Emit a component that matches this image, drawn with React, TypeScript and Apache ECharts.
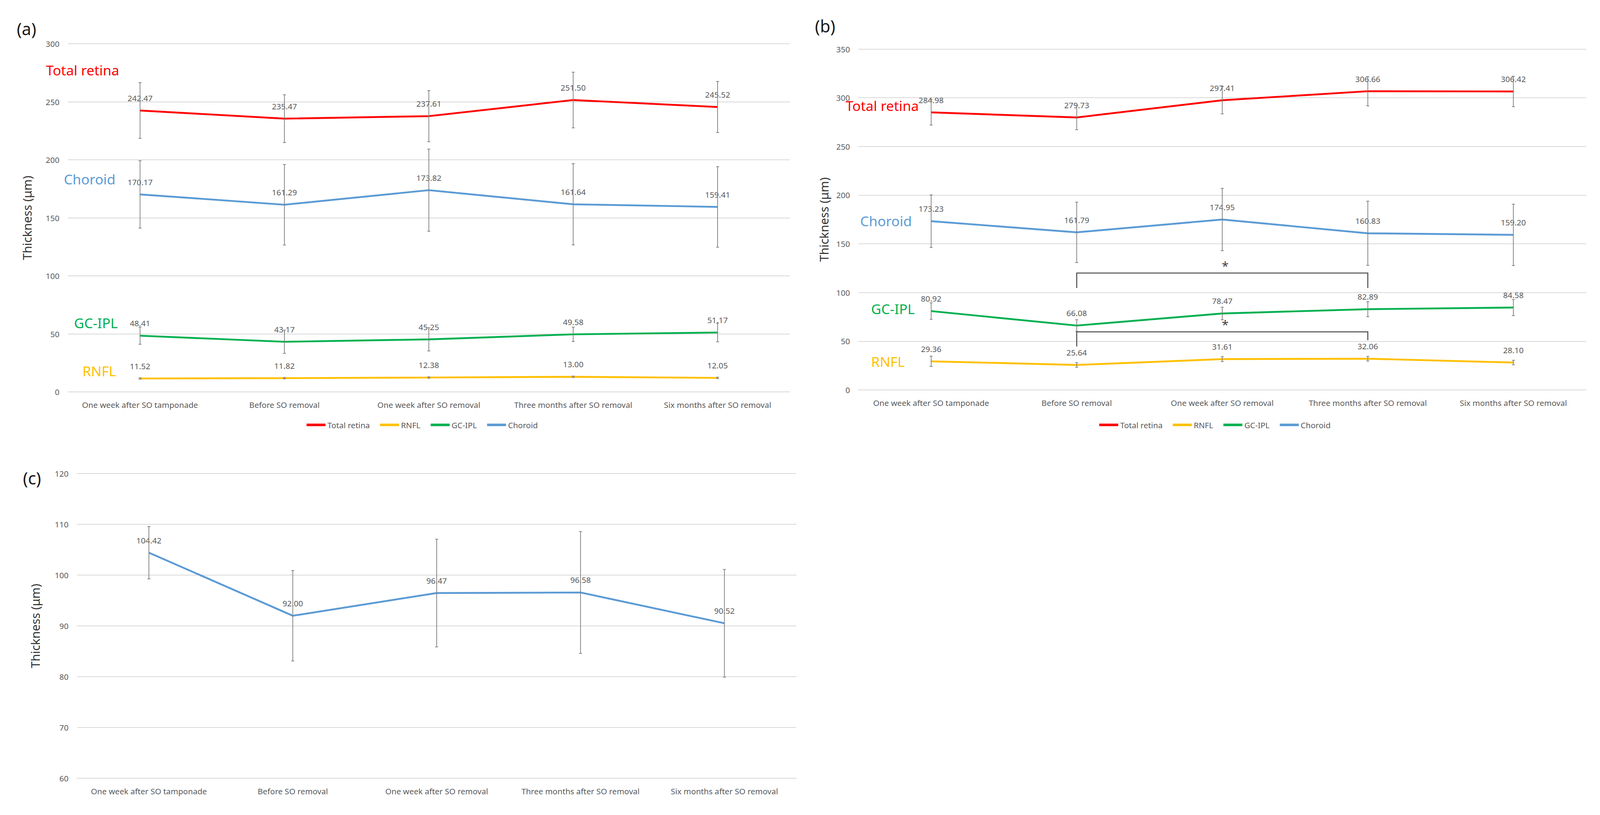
import React, { useEffect, useRef } from "react";
import * as echarts from "echarts";

const categories = [
  "One week after SO tamponade",
  "Before SO removal",
  "One week after SO removal",
  "Three months after SO removal",
  "Six months after SO removal",
];

// Panel (a)
const aTotal = [242.47, 235.47, 237.61, 251.5, 245.52];
const aTotalSD = [24, 20.6, 22, 24, 22];
const aChoroid = [170.17, 161.29, 173.82, 161.64, 159.41];
const aChoroidSD = [29, 34.7, 35.4, 35, 34.7];
const aGCIPL = [48.41, 43.17, 45.25, 49.58, 51.17];
const aGCIPLSD = [7.4, 10, 10, 6.2, 8];
const aRNFL = [11.52, 11.82, 12.38, 13.0, 12.05];
const aRNFLSD = [0.6, 0.6, 0.6, 0.6, 0.6];

// Panel (b)
const bTotal = [284.98, 279.73, 297.41, 306.66, 306.42];
const bTotalSD = [13, 12.5, 14, 15, 15.6];
const bChoroid = [173.23, 161.79, 174.95, 160.83, 159.2];
const bChoroidSD = [27, 31, 32, 33, 31.5];
const bGCIPL = [80.92, 66.08, 78.47, 82.89, 84.58];
const bGCIPLSD = [8.5, 6, 6.4, 7.7, 8.3];
const bRNFL = [29.36, 25.64, 31.61, 32.06, 28.1];
const bRNFLSD = [5.3, 2.4, 2.5, 2.4, 2.3];

// Panel (c)
const cValues = [104.42, 92.0, 96.47, 96.58, 90.52];
const cSD = [5.15, 8.9, 10.6, 12, 10.6];

// Significance brackets in panel (b)
const bracketFrom = [1, 1];
const bracketTo = [3, 3];
const bracketLevel = [120, 59.6];
const bracketLeftDrop = [104.7, 44.6];
const bracketRightDrop = [104.7, 51];
const bracketStarAt = [2, 2];

// Axis ticks
const aTicks = { min: 0, max: 300, interval: 50 };
const bTicks = { min: 0, max: 350, interval: 50 };
const cTicks = { min: 60, max: 120, interval: 10 };

const seriesNames = ["Total retina", "RNFL", "GC-IPL", "Choroid"];
const COLORS: Record<string, string> = {
  "Total retina": "#FF0000",
  RNFL: "#FFC000",
  "GC-IPL": "#00B050",
  Choroid: "#5B9BD5",
};

const FONT = "Noto Sans";
const GRID_COLOR = "#D9D9D9";
const TEXT_COLOR = "#595959";
const REF_W = 4386;
const REF_H = 2086;

export default function App() {
  const ref = useRef<HTMLDivElement>(null);
  useEffect(() => {
    const el = ref.current;
    if (!el) return;
    const w = el.clientWidth || REF_W;
    const h = el.clientHeight || REF_H;
    const sx = w / REF_W;
    const sy = h / REF_H;
    const sf = Math.min(sx, sy);
    const X = (v: number) => v * sx;
    const Y = (v: number) => v * sy;
    const F = (v: number) => v * sf;

    const lineSeries = (name: string, data: number[], idx: number, color: string) => ({
      type: "line",
      name,
      xAxisIndex: idx,
      yAxisIndex: idx,
      data,
      symbol: "circle",
      symbolSize: F(2),
      lineStyle: { color, width: F(5) },
      itemStyle: { color },
      z: 2,
      label: {
        show: true,
        position: "top",
        distance: F(22),
        fontSize: F(22),
        fontFamily: FONT,
        color: TEXT_COLOR,
        formatter: (p: any) => Number(p.value).toFixed(2),
      },
    });

    const errorSeries = (means: number[], sds: number[], idx: number) => ({
      type: "custom",
      xAxisIndex: idx,
      yAxisIndex: idx,
      z: 4,
      clip: false,
      silent: true,
      encode: { x: 0, y: 1 },
      data: means.map((m, i) => [i, m, sds[i]]),
      renderItem: (params: any, api: any) => {
        const x = api.value(0);
        const m = api.value(1);
        const s = api.value(2);
        const top = api.coord([x, m + s]);
        const bot = api.coord([x, m - s]);
        const st = { stroke: "#7F7F7F", lineWidth: F(2) };
        const c = F(4);
        return {
          type: "group",
          children: [
            { type: "line", shape: { x1: top[0], y1: top[1], x2: bot[0], y2: bot[1] }, style: st },
            { type: "line", shape: { x1: top[0] - c, y1: top[1], x2: top[0] + c, y2: top[1] }, style: st },
            { type: "line", shape: { x1: bot[0] - c, y1: bot[1], x2: bot[0] + c, y2: bot[1] }, style: st },
          ],
        };
      },
    });

    const bracketSeries = (idx: number) => ({
      type: "custom",
      xAxisIndex: idx,
      yAxisIndex: idx,
      z: 5,
      clip: false,
      silent: true,
      encode: { x: 0, y: 1 },
      data: bracketFrom.map((f, i) => [f, bracketLevel[i], bracketTo[i], bracketLeftDrop[i], bracketRightDrop[i], bracketStarAt[i]]),
      renderItem: (params: any, api: any) => {
        const f = api.value(0);
        const lvl = api.value(1);
        const t = api.value(2);
        const ld = api.value(3);
        const rd = api.value(4);
        const sa = api.value(5);
        const p1 = api.coord([f, ld]);
        const p2 = api.coord([f, lvl]);
        const p3 = api.coord([t, lvl]);
        const p4 = api.coord([t, rd]);
        const ps = api.coord([sa, lvl]);
        return {
          type: "group",
          children: [
            {
              type: "polyline",
              shape: { points: [p1, p2, p3, p4] },
              style: { stroke: "#595959", lineWidth: F(3), fill: "none" },
            },
            {
              type: "text",
              x: ps[0] + F(8),
              y: ps[1] - F(4),
              style: {
                text: "*",
                fontSize: F(34),
                fontFamily: FONT,
                fill: "#404040",
                align: "center",
                verticalAlign: "bottom",
                textAlign: "center",
                textVerticalAlign: "bottom",
              },
            },
          ],
        };
      },
    });

    const xAxis = (idx: number) => ({
      type: "category",
      gridIndex: idx,
      data: categories,
      boundaryGap: true,
      axisLine: { show: true, lineStyle: { color: GRID_COLOR, width: F(2) } },
      axisTick: { show: false },
      axisLabel: { interval: 0, fontSize: F(22), fontFamily: FONT, color: TEXT_COLOR, margin: Y(22) },
      splitLine: { show: false },
    });

    const yAxis = (idx: number, ticks: { min: number; max: number; interval: number }, gap: number) => ({
      type: "value",
      gridIndex: idx,
      min: ticks.min,
      max: ticks.max,
      interval: ticks.interval,
      name: "Thickness (μm)",
      nameLocation: "middle",
      nameRotate: 90,
      nameGap: X(gap),
      nameTextStyle: { fontSize: F(33), fontFamily: FONT, color: "#333333" },
      axisLine: { show: false },
      axisTick: { show: false },
      axisLabel: { fontSize: F(22), fontFamily: FONT, color: TEXT_COLOR, margin: X(23) },
      splitLine: { show: true, lineStyle: { color: GRID_COLOR, width: F(2) } },
    });

    const txt = (text: string, x: number, y: number, size: number, color: string) => ({
      type: "text",
      x: X(x),
      y: Y(y),
      z: 10,
      style: {
        text,
        fontSize: F(size),
        fontFamily: FONT,
        fill: color,
        verticalAlign: "middle",
        textVerticalAlign: "middle",
      },
    });

    const legendBase = {
      data: seriesNames,
      orient: "horizontal",
      icon: "rect",
      itemWidth: F(52),
      itemHeight: F(7),
      itemGap: F(28),
      textStyle: { fontSize: F(22), fontFamily: FONT, color: TEXT_COLOR },
    };

    const chart = echarts.init(el, undefined, { renderer: "svg" });
    const option: any = {
      animation: false,
      backgroundColor: "#FFFFFF",
      grid: [
        { left: X(186), top: Y(112), width: X(1979), height: Y(891) },
        { left: X(2353), top: Y(125.5), width: X(1995), height: Y(872.5) },
        { left: X(211), top: Y(1212), width: X(1972), height: Y(780) },
      ],
      xAxis: [xAxis(0), xAxis(1), xAxis(2)],
      yAxis: [yAxis(0, aTicks, 95), yAxis(1, bTicks, 78), yAxis(2, cTicks, 98)],
      legend: [
        { ...legendBase, left: X(835), top: Y(1072) },
        { ...legendBase, left: X(3008), top: Y(1072) },
      ],
      series: [
        lineSeries("Total retina", aTotal, 0, COLORS["Total retina"]),
        lineSeries("RNFL", aRNFL, 0, COLORS.RNFL),
        lineSeries("GC-IPL", aGCIPL, 0, COLORS["GC-IPL"]),
        lineSeries("Choroid", aChoroid, 0, COLORS.Choroid),
        errorSeries(aTotal, aTotalSD, 0),
        errorSeries(aRNFL, aRNFLSD, 0),
        errorSeries(aGCIPL, aGCIPLSD, 0),
        errorSeries(aChoroid, aChoroidSD, 0),
        lineSeries("Total retina", bTotal, 1, COLORS["Total retina"]),
        lineSeries("RNFL", bRNFL, 1, COLORS.RNFL),
        lineSeries("GC-IPL", bGCIPL, 1, COLORS["GC-IPL"]),
        lineSeries("Choroid", bChoroid, 1, COLORS.Choroid),
        errorSeries(bTotal, bTotalSD, 1),
        errorSeries(bRNFL, bRNFLSD, 1),
        errorSeries(bGCIPL, bGCIPLSD, 1),
        errorSeries(bChoroid, bChoroidSD, 1),
        bracketSeries(1),
        lineSeries("Thickness", cValues, 2, COLORS.Choroid),
        errorSeries(cValues, cSD, 2),
      ],
      graphic: [
        txt("(a)", 46, 73, 46, "#1A1A1A"),
        txt("(b)", 2234, 66, 46, "#1A1A1A"),
        txt("(c)", 63, 1223, 46, "#1A1A1A"),
        txt("Total retina", 126, 179, 38, COLORS["Total retina"]),
        txt("Choroid", 175, 458, 38, COLORS.Choroid),
        txt("GC-IPL", 203, 826, 38, COLORS["GC-IPL"]),
        txt("RNFL", 226, 949, 38, COLORS.RNFL),
        txt("Total retina", 2318, 270, 38, COLORS["Total retina"]),
        txt("Choroid", 2358, 565, 38, COLORS.Choroid),
        txt("GC-IPL", 2388, 790, 38, COLORS["GC-IPL"]),
        txt("RNFL", 2388, 925, 38, COLORS.RNFL),
      ],
    };
    chart.setOption(option);
    return () => chart.dispose();
  }, []);
  return (
    <div
      ref={ref}
      style={{
        position: "fixed",
        left: 0,
        top: 0,
        width: "100vw",
        height: "100vh",
        background: "#fff",
        overflow: "hidden",
      }}
    />
  );
}
